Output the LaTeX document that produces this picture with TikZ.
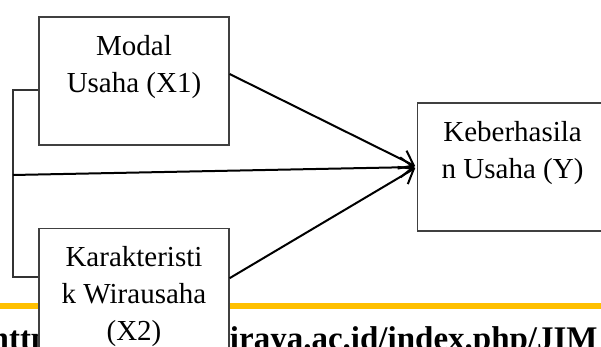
\documentclass[tikz,border=0pt]{standalone}
\usepackage{fontspec}
\setmainfont{Liberation Serif}
\usetikzlibrary{arrows.meta,positioning,calc}
\definecolor{jimyellow}{HTML}{FFC000}

\begin{document}
\begin{tikzpicture}
[x=.5pt,y=-.5pt,
box/.style={draw=black!75,line width=.6pt,fill=white,minimum width=95pt,minimum height=64pt,inner sep=0pt},
lbl/.style={align=center,inner sep=0pt,anchor=north,font=\fontsize{14.5pt}{18.5pt}\selectfont},
edge/.style={black,line width=1pt,-{Straight Barb[length=6.5pt,width=10pt]},shorten >=1pt},
brace/.style={black!80,line width=.6pt},
rule/.style={jimyellow,line width=2.75pt},
url/.style={inner sep=0pt,font=\fontsize{16.5pt}{20pt}\selectfont\bfseries}]
\useasboundingbox (0,0) rectangle (601,347);
%%
\coordinate (rl) at (0,306);
\coordinate (rr) at (601,306);
\draw[rule] (rl) -- (rr);
\node[url,anchor=base east] (link) at (598,350) {http://ejournal.wiraya.ac.id/index.php/JIM};
%%
\node[box] (mod) at (134,81) {};
\node[box,below=41pt of mod] (kar) {};
\node[box,anchor=west] (hasil) at (417,167) {};
\node[lbl] at ([yshift=-9.2pt]mod.north) {Modal\\Usaha (X1)};
\node[lbl] at ([yshift=-9.2pt]kar.north) {Karakteristi\\k Wirausaha\\(X2)};
\node[lbl] at ([yshift=-9.2pt]hasil.north) {Keberhasila\\n Usaha (Y)};
%%
\coordinate (b1) at (13,90);
\coordinate (b0) at (13,175);
\coordinate (b2) at (13,277);
\draw[brace] (mod.west |- b1) -- (b1) -- (b2) -- (kar.west |- b2);
\draw[edge] (b0) -- (hasil.west);
\draw[edge] ([yshift=3.5pt]mod.east) -- (hasil.west);
\draw[edge] ([yshift=7pt]kar.east) -- (hasil.west);
\end{tikzpicture}
\end{document}
